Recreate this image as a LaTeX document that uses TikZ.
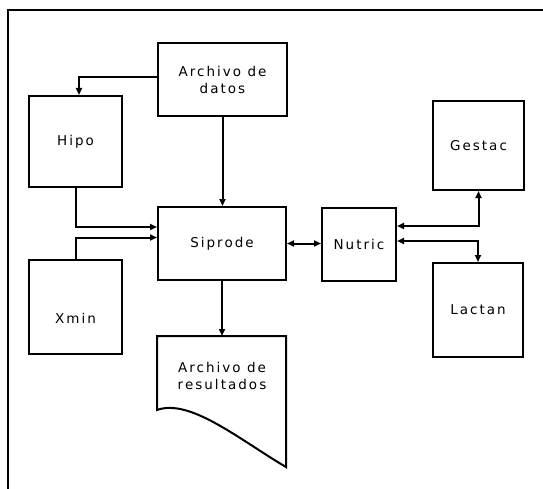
\documentclass[tikz,border=0pt]{standalone}
\usepackage{fontspec}
\usetikzlibrary{arrows.meta}
\newfontfamily\labfont{DejaVu Sans}[LetterSpace=15]
\begin{document}
\begin{tikzpicture}[x=1pt,y=-1pt,
  lab/.style={font=\labfont\fontsize{13.5}{17}\selectfont, align=center, inner sep=0pt},
  boxnode/.style={draw, line width=2pt, lab},
  arr/.style={line width=2pt, -{Triangle[length=7pt,width=6pt]}},
  darr/.style={line width=2pt, {Triangle[length=7pt,width=6pt]}-{Triangle[length=7pt,width=6pt]}},
  frameline/.style={line width=2.8pt}]
\useasboundingbox (0,0) rectangle (543,489);
% frame
\draw[frameline] (8,489) -- (8,10) -- (543,10);
% boxes
\node[boxnode, minimum width=129pt, minimum height=73pt] (datos) at (222.5,79.5) {Archivo de\\datos};
\node[boxnode, minimum width=93pt, minimum height=91pt] (hipo) at (75.5,141.5) {Hipo};
\node[boxnode, minimum width=91pt, minimum height=89pt] (gestac) at (478.5,145.5) {Gestac};
\node[boxnode, minimum width=128pt, minimum height=73pt] (siprode) at (222,243.5) {Siprode};
\node[boxnode, minimum width=74pt, minimum height=73pt] (nutric) at (359,244.5) {Nutric};
\node[boxnode, minimum width=93pt, minimum height=94pt, label={[lab, yshift=-11pt]center:Xmin}] (xmin) at (75.5,307) {};
\node[boxnode, minimum width=90pt, minimum height=94pt] (lactan) at (478,310) {Lactan};
% document shape
\draw[line width=2pt] (157,336) -- (286,336) -- (286,467)
  .. controls (240,440) and (190,398) .. (157,410) -- cycle;
\node[lab] (res) at (222,376) {Archivo de\\resultados};
\coordinate (restop) at (222,336);
% connectors
\draw[arr] ([yshift=2.5pt]datos.west) -| ([xshift=3.5pt]hipo.north);
\draw[arr] (datos.south) -- (datos.south |- siprode.north);
\draw[arr] (hipo.south) |- ([yshift=16.5pt]siprode.west);
\draw[arr] (xmin.north) |- ([yshift=6pt]siprode.west);
\draw[darr] (siprode.east) -- (siprode.east -| nutric.west);
\draw[darr] (gestac.south) |- ([yshift=18.5pt]nutric.east);
\draw[darr] ([yshift=3.5pt]nutric.east) -| (lactan.north);
\draw[arr] (siprode.south) -- (restop);
\end{tikzpicture}
\end{document}
